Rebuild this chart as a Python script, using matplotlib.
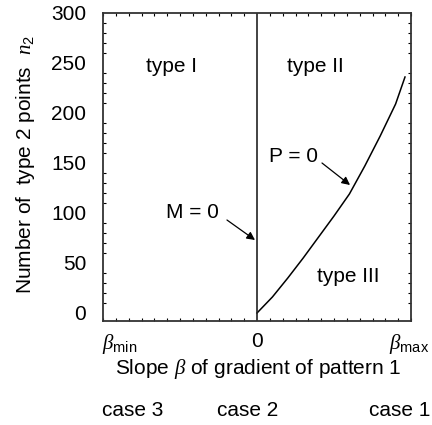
import numpy as np
import matplotlib
matplotlib.use("Agg")
import matplotlib.pyplot as plt
from matplotlib.ticker import MultipleLocator

plt.rcParams['font.family'] = ['Liberation Sans', 'DejaVu Sans']
plt.rcParams['mathtext.fontset'] = 'custom'
plt.rcParams['mathtext.it'] = 'Liberation Serif:italic'
plt.rcParams['mathtext.rm'] = 'Liberation Sans'

# P = 0 boundary curve (beta scaled, n2)
beta_p = [0.0, 0.1, 0.2, 0.3, 0.4, 0.5, 0.6, 0.7, 0.8, 0.9, 0.961]
n2_p = [0, 16, 35, 55, 76, 97, 119, 147, 177, 209, 236]

# M = 0 boundary (vertical line at beta = 0)
beta_m = [0.0, 0.0]
n2_m = [-8, 300]

xtick_pos = [-0.89, 0.0, 0.99]
xtick_labels = [r'$\beta_{\rm min}$', '0', r'$\beta_{\rm max}$']
ytick_vals = [0, 50, 100, 150, 200, 250, 300]
case_labels = ['case 3', 'case 2', 'case 1']

FS = 15
W, H = 432, 425

fig = plt.figure(figsize=(W / 100, H / 100), dpi=100)
ax = fig.add_axes([103 / W, 1 - 321 / H, 308 / W, 308 / H])

ax.plot(beta_p, n2_p, color='black', lw=1.1)
ax.plot(beta_m, n2_m, color='#222222', lw=1.2)

ax.set_xlim(-1, 1)
ax.set_ylim(-8, 300)

ax.set_xticks(xtick_pos)
ax.set_xticklabels(xtick_labels, fontsize=FS)
ax.set_yticks(ytick_vals)
ax.set_yticklabels([str(v) for v in ytick_vals], fontsize=FS)
ax.xaxis.set_minor_locator(MultipleLocator(1 / 12))
ax.yaxis.set_minor_locator(MultipleLocator(10))
ax.tick_params(which='both', direction='in', top=True, right=True)
ax.tick_params(which='major', length=0)
ax.tick_params(axis='y', which='major', pad=12)
ax.tick_params(axis='x', which='major', pad=8)
ax.tick_params(which='minor', length=2, width=0.8)
for s in ax.spines.values():
    s.set_linewidth(1.3)
    s.set_color('#333333')

fig.text(26 / W, 1 - 165 / H, r'Number of  type 2 points  $n_2$', fontsize=FS,
         rotation=90, ha='center', va='center')
fig.text(258 / W, 1 - 369 / H, r'Slope $\beta$ of gradient of pattern 1', fontsize=FS,
         ha='center', va='center')

ax.text(-0.558, 246, 'type I', fontsize=FS, ha='center', va='center')
ax.text(0.377, 246, 'type II', fontsize=FS, ha='center', va='center')
ax.text(0.59, 36, 'type III', fontsize=FS, ha='center', va='center')

ax.text(-0.416, 100, 'M = 0', fontsize=FS, ha='center', va='center')
ax.annotate('', xy=(-0.013, 73), xytext=(-0.195, 93),
            arrowprops=dict(arrowstyle='-|>', color='black', lw=0.9,
                            shrinkA=0, shrinkB=0, mutation_scale=12))
ax.text(0.24, 157, 'P = 0', fontsize=FS, ha='center', va='center')
ax.annotate('', xy=(0.604, 128), xytext=(0.422, 150),
            arrowprops=dict(arrowstyle='-|>', color='black', lw=0.9,
                            shrinkA=0, shrinkB=0, mutation_scale=12))

case_x = [133 / W, 248 / W, 400 / W]
for cx, lab in zip(case_x, case_labels):
    fig.text(cx, 1 - 411 / H, lab, fontsize=FS, ha='center', va='center')

fig.savefig('out.png', dpi=100)
